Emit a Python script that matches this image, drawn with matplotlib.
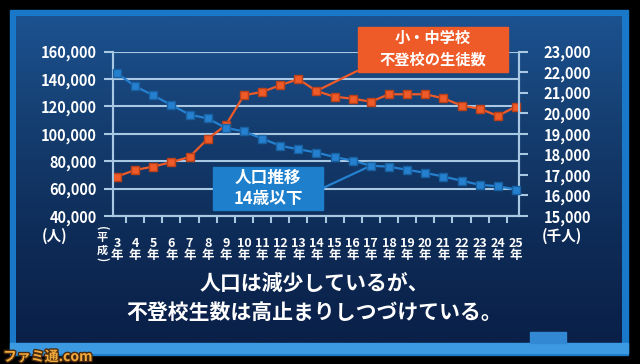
import numpy as np
import matplotlib
matplotlib.use("Agg")
import matplotlib.pyplot as plt
from matplotlib.patches import Rectangle
import matplotlib.patheffects as pe

plt.rcParams["font.family"] = ["Noto Sans CJK JP", "DejaVu Sans"]
plt.rcParams["font.weight"] = "bold"

# 平成3年 ～ 25年
years = list(range(3, 26))
# 小・中学校 不登校の生徒数 (人)
futoko = [68800, 73600, 76100, 79300, 83100, 96300, 106300, 128200, 130600, 135500,
          140000, 131300, 127100, 125700, 123500, 128900, 128900, 128900, 126000,
          120600, 118400, 113100, 119900]
# 人口推移 14歳以下 (千人)
jinko = [21950, 21320, 20870, 20400, 19940, 19750, 19290, 19120, 18770, 18420,
         18250, 18090, 17870, 17700, 17450, 17400, 17250, 17100, 16920, 16720,
         16520, 16450, 16290]

W, H = 640, 364
ORANGE = "#ee5a28"
BLUE = "#2580cf"
GRID = "#a9c8e4"


def fx(px):
    return px / W


def fy(py):
    return 1 - py / H


fig = plt.figure(figsize=(6.4, 3.64), dpi=100)

# background / frame
bg = fig.add_axes([0, 0, 1, 1], zorder=-10)
bg.axis("off")
bg.add_patch(Rectangle((0, 0), W, H, color="black", zorder=0))
bg.add_patch(Rectangle((10, 10), 618, 345, color="#1a78c8", zorder=1))
grad = np.linspace(0, 1, 200)[:, None]
cmap = matplotlib.colors.LinearSegmentedColormap.from_list(
    "bgc", ["#1c5290", "#153e70", "#0e2c58", "#0a2048"])
bg.imshow(grad, extent=(16, 622, 343, 16), cmap=cmap, aspect="auto", zorder=2)
bg.add_patch(Rectangle((10, 343), 618, 10, color="#3c9ae2", zorder=3))
bg.add_patch(Rectangle((530, 332), 36, 11, color="#3388d4", zorder=3))
bg.set_xlim(0, W)
bg.set_ylim(H, 0)

ax = fig.add_axes([fx(113), fy(216), (519 - 113) / W, (216 - 51.7) / H])
ax.set_facecolor("none")
ax2 = ax.twinx()

ax.plot(years, futoko, color=ORANGE, lw=1.6, marker="s", ms=6,
        mec="#b8401a", mfc=ORANGE, zorder=5, clip_on=False)
ax2.plot(years, jinko, color=BLUE, lw=1.6, marker="s", ms=6,
         mec="#18609f", mfc=BLUE, zorder=5, clip_on=False)

ax.set_xlim(2.78, 25.17)
ax.set_ylim(40000, 160000)
ax2.set_ylim(15000, 23000)

ax.set_yticks(range(40000, 160001, 20000))
ax.set_yticklabels([f"{v:,}" for v in range(40000, 160001, 20000)])
ax2.set_yticks(range(15000, 23001, 1000))
ax2.set_yticklabels([f"{v:,}" for v in range(15000, 23001, 1000)])

ax.set_xticks(years)
ax.set_xticklabels([f"{y}\n年" for y in years], linespacing=0.95)
ax.set_xticks([y + 0.5 for y in years[:-1]], minor=True)

ax.grid(axis="y", color=GRID, lw=1.5)
ax.set_axisbelow(True)

for a in (ax, ax2):
    for s in a.spines.values():
        s.set_color(GRID)
        s.set_linewidth(1.5)
    a.spines["top"].set_visible(False)

ax.tick_params(axis="y", length=6.5, width=1.5, color=GRID, labelcolor="white",
               labelsize=10.5, pad=5)
ax2.tick_params(axis="y", length=6.5, width=1.5, color=GRID, labelcolor="white",
                labelsize=10.5, pad=11)
ax.tick_params(axis="x", which="major", length=0, labelcolor="white",
               labelsize=9, pad=15)
ax.tick_params(axis="x", which="minor", length=5, width=1.5, color=GRID)

# label boxes
fig.patches.append(Rectangle((fx(358), fy(72)), fx(150), 45 / H,
                             transform=fig.transFigure, color=ORANGE, zorder=6))
fig.text(fx(433), fy(38), "小・中学校", color="white", fontsize=11,
         ha="center", va="center", zorder=7)
fig.text(fx(433), fy(60), "不登校の生徒数", color="white", fontsize=11,
         ha="center", va="center", zorder=7)
ax.annotate("", xy=(14, futoko[11]), xytext=(fx(357), fy(71)),
            textcoords="figure fraction",
            arrowprops=dict(arrowstyle="-", color=ORANGE, lw=1.6,
                            shrinkA=0, shrinkB=0))

fig.patches.append(Rectangle((fx(213), fy(210)), fx(110), 43 / H,
                             transform=fig.transFigure, color="#1e80cc", zorder=6))
fig.text(fx(268), fy(178), "人口推移", color="white", fontsize=12,
         ha="center", va="center", zorder=7)
fig.text(fx(268), fy(199), "14歳以下", color="white", fontsize=12,
         ha="center", va="center", zorder=7)
ax2.annotate("", xy=(17, jinko[14]), xytext=(fx(323), fy(188)),
             textcoords="figure fraction",
             arrowprops=dict(arrowstyle="-", color=BLUE, lw=1.6,
                             shrinkA=0, shrinkB=0))

# unit labels
fig.text(fx(55), fy(236), "(人)", color="white", fontsize=10.5,
         ha="center", va="center")
fig.text(fx(562), fy(236), "(千人)", color="white", fontsize=10.5,
         ha="center", va="center")
fig.text(fx(102), fy(228), "(", color="white", fontsize=8, rotation=-90,
         ha="center", va="center")
fig.text(fx(102), fy(244), "平\n成", color="white", fontsize=8,
         ha="center", va="center", linespacing=0.95)
fig.text(fx(102), fy(259), ")", color="white", fontsize=8, rotation=-90,
         ha="center", va="center")

# caption
fig.text(fx(314), fy(283), "人口は減少しているが、", color="white",
         fontsize=15, ha="center", va="center")
fig.text(fx(314), fy(312), "不登校生数は高止まりしつづけている。", color="white",
         fontsize=15, ha="center", va="center")

fig.text(fx(3), fy(357), "ファミ通.com", color="#f2aa3a", fontsize=10,
         ha="left", va="center",
         path_effects=[pe.withStroke(linewidth=2, foreground="#4a2a10")])

fig.savefig("out.png", dpi=100)
